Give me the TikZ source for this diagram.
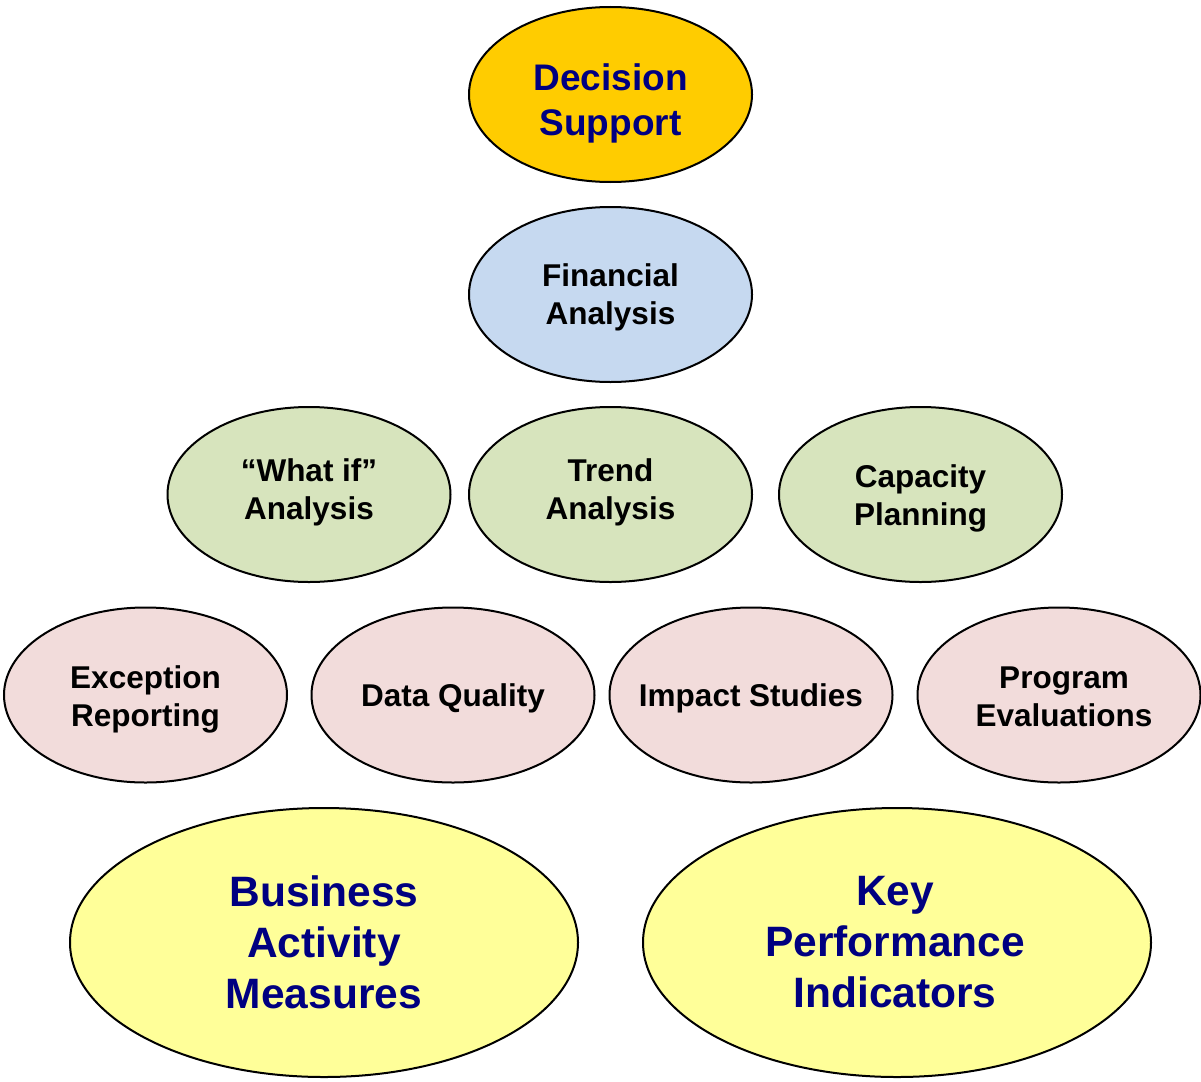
\documentclass[tikz,border=0pt]{standalone}
\usepackage{fontspec}
\setmainfont{Liberation Sans}
\usetikzlibrary{shapes.geometric}
\definecolor{navytext}{HTML}{000080}
\definecolor{goldfill}{HTML}{FFCC00}
\definecolor{bluefill}{HTML}{C6D9F0}
\definecolor{greenfill}{HTML}{D7E4BD}
\definecolor{pinkfill}{HTML}{F2DCDB}
\definecolor{yellowfill}{HTML}{FFFF99}
\tikzset{
  oval/.style={ellipse, draw=black, line width=2pt, inner sep=0pt,
    minimum width=283pt, minimum height=175pt},
  bigoval/.style={oval, minimum width=508pt, minimum height=269pt, fill=yellowfill},
  midtext/.style={align=center, inner sep=0pt, font=\fontsize{31.5}{38}\selectfont\bfseries, text=black},
  toptext/.style={align=center, inner sep=0pt, font=\fontsize{37}{45}\selectfont\bfseries, text=navytext},
  bigtext/.style={align=center, inner sep=0pt, font=\fontsize{42.5}{51}\selectfont\bfseries, text=navytext},
}
\begin{document}
\begin{tikzpicture}[x=1pt,y=-1pt]
\useasboundingbox (0,0) rectangle (1201,1081);
% ovals
\node[oval, fill=goldfill] (ds) at (610.5,94.5) {};
\node[oval, fill=bluefill] (fa) at (610.5,294.5) {};
\node[oval, fill=greenfill] (wi) at (309,494.5) {};
\node[oval, fill=greenfill] (ta) at (610.5,494.5) {};
\node[oval, fill=greenfill] (cp) at (920.5,494.5) {};
\node[oval, fill=pinkfill] (er) at (145.5,695) {};
\node[oval, fill=pinkfill] (dq) at (453,695) {};
\node[oval, fill=pinkfill] (is) at (751,695) {};
\node[oval, fill=pinkfill] (pe) at (1059,695) {};
\node[bigoval] (bam) at (324,942.5) {};
\node[bigoval] (kpi) at (897,942.5) {};
% labels
\node[toptext] (dsText) at ([yshift=-9pt]ds.center) {Decision\\Support};
\node[midtext] (faText) at ([yshift=-3pt]fa.center) {Financial\\Analysis};
\node[midtext] (wiText) at ([yshift=2pt]wi.center) {``What if''\\Analysis};
\node[midtext] (taText) at ([yshift=2pt]ta.center) {Trend\\Analysis};
\node[midtext] (cpText) at ([yshift=-4pt]cp.center) {Capacity\\Planning};
\node[midtext] (erText) at ([yshift=-4pt]er.center) {Exception\\Reporting};
\node[midtext] (dqText) at ([yshift=-3pt]dq.center) {Data Quality};
\node[midtext] (isText) at ([yshift=-3pt]is.center) {Impact Studies};
\node[midtext] (peText) at ([xshift=5pt,yshift=-2pt]pe.center) {Program\\Evaluations};
\node[bigtext] (bamText) at (bam.center) {Business\\Activity\\Measures};
\node[bigtext] (kpiText) at ([xshift=-2pt]kpi.center) {Key\\Performance\\Indicators};
\end{tikzpicture}
\end{document}
